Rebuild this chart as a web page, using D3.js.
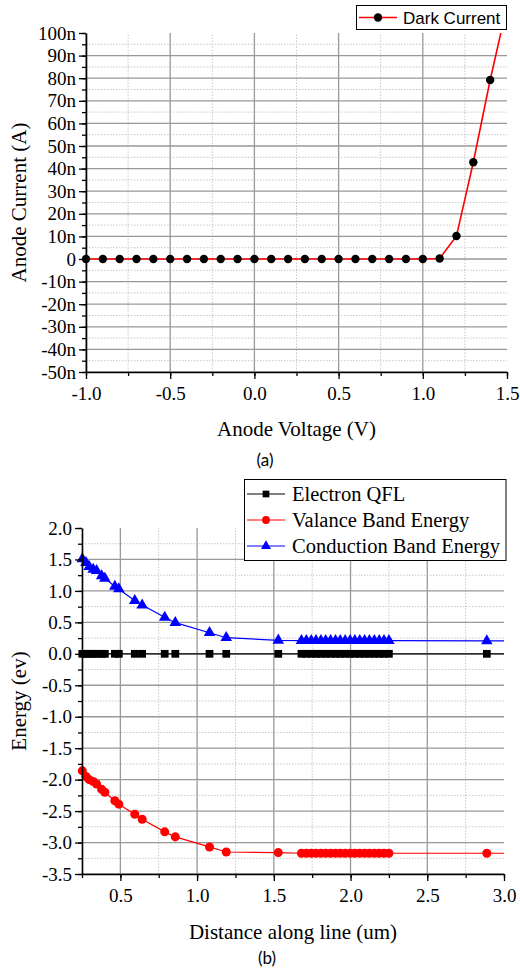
<!DOCTYPE html>
<html>
<head>
<meta charset="utf-8">
<script src="https://cdn.jsdelivr.net/npm/d3@7/dist/d3.min.js"></script>
<style>
  html, body { margin: 0; padding: 0; background: #fff; }
  svg { display: block; }
</style>
</head>
<body>
<svg id="fig" width="520" height="972"></svg>
<script>
// ---------- (a) dark current vs anode voltage ----------
const voltage = [-1.0, -0.9, -0.8, -0.7, -0.6, -0.5, -0.4, -0.3, -0.2, -0.1, 0.0,
                 0.1, 0.2, 0.3, 0.4, 0.5, 0.6, 0.7, 0.8, 0.9, 1.0, 1.1, 1.2, 1.3, 1.4, 1.5];
// anode current in nA
const currentNA = [0, 0, 0, 0, 0, 0, 0, 0, 0, 0, 0,
                   0, 0, 0, 0, 0, 0, 0, 0, 0, 0, 0.2, 10.2, 42.8, 79.2, 112];
const voltageTicks = [-1.0, -0.5, 0.0, 0.5, 1.0, 1.5];
const currentTicks = [-50, -40, -30, -20, -10, 0, 10, 20, 30, 40, 50, 60, 70, 80, 90, 100];

// ---------- (b) band diagram along a cut line ----------
const distance = [0.252, 0.276, 0.297, 0.323, 0.345, 0.378, 0.399, 0.464, 0.490, 0.594, 0.642,
                  0.789, 0.858, 1.081, 1.190, 1.529,
                  1.680, 1.712, 1.744, 1.775, 1.807, 1.838, 1.870, 1.902, 1.933, 1.965,
                  1.997, 2.028, 2.060, 2.092, 2.123, 2.155, 2.187, 2.218, 2.250,
                  2.888, 3.100];
const electronQFL = distance.map(() => 0);
const valenceBand = [-1.86, -1.95, -2.00, -2.03, -2.07, -2.155, -2.20, -2.335, -2.39, -2.55, -2.63,
                     -2.83, -2.91, -3.07, -3.15, -3.16,
                     -3.17, -3.17, -3.17, -3.17, -3.17, -3.17, -3.17, -3.17, -3.17, -3.17,
                     -3.17, -3.17, -3.17, -3.17, -3.17, -3.17, -3.17, -3.17, -3.17,
                     -3.17, -3.17];
const conductionBand = [1.51, 1.45, 1.385, 1.34, 1.32, 1.24, 1.20, 1.07, 1.03, 0.845, 0.775,
                        0.58, 0.495, 0.335, 0.256, 0.215,
                        0.21, 0.21, 0.21, 0.21, 0.21, 0.21, 0.21, 0.21, 0.21, 0.21,
                        0.21, 0.21, 0.21, 0.21, 0.21, 0.21, 0.21, 0.21, 0.21,
                        0.205, 0.205];
const distanceTicks = [0.5, 1.0, 1.5, 2.0, 2.5, 3.0];
const energyTicks = [-3.5, -3.0, -2.5, -2.0, -1.5, -1.0, -0.5, 0.0, 0.5, 1.0, 1.5, 2.0];
const seriesNames = ["Electron QFL", "Valance Band Energy", "Conduction Band Energy"];
const seriesColors = ["#000000", "#ff0000", "#0000ff"];

const svg = d3.select("#fig");
const SERIF = '"Liberation Serif", "Times New Roman", serif';
const TICK_FS = 19;
const MAJOR = "#999999", MINOR = "#c8c8c8";
// one decimal, plain hyphen for negatives
const fmt1 = v => d3.format(".1f")(v).replace("\u2212", "-");

function range(a, b, step) {
  const out = [];
  for (let v = a; v <= b + step * 1e-6; v += step) out.push(+v.toFixed(6));
  return out;
}

function frame(g, x, y, opts) {
  const [x0, x1] = x.range(), [yb, yt] = y.range();
  // minor grid (dotted)
  g.append("g").selectAll("line").data(opts.xMinor.filter(v => !opts.xMajor.includes(v)))
    .join("line").attr("x1", d => x(d)).attr("x2", d => x(d)).attr("y1", yb).attr("y2", yt)
    .attr("stroke", MINOR).attr("stroke-width", 1).attr("stroke-dasharray", "1.5,1.5");
  g.append("g").selectAll("line").data(opts.yMinor.filter(v => !opts.yMajor.includes(v)))
    .join("line").attr("y1", d => y(d)).attr("y2", d => y(d)).attr("x1", x0).attr("x2", x1)
    .attr("stroke", MINOR).attr("stroke-width", 1).attr("stroke-dasharray", "1.5,1.5");
  // major grid (solid), not on the top/right limits
  const xMaj = x.domain()[1], yMaj = y.domain()[1];
  g.append("g").selectAll("line").data(opts.xMajor.filter(v => v !== xMaj))
    .join("line").attr("x1", d => x(d)).attr("x2", d => x(d)).attr("y1", yb).attr("y2", yt)
    .attr("stroke", MAJOR).attr("stroke-width", 1.3);
  g.append("g").selectAll("line").data(opts.yMajor.filter(v => v !== yMaj))
    .join("line").attr("y1", d => y(d)).attr("y2", d => y(d)).attr("x1", x0).attr("x2", x1)
    .attr("stroke", MAJOR).attr("stroke-width", 1.3);
}

function axes(g, x, y, opts) {
  const yb = y.range()[0], x0 = x.range()[0];
  // minor ticks
  g.append("g").attr("transform", `translate(0,${yb})`)
    .call(d3.axisBottom(x).tickValues(opts.xMinor).tickSize(4).tickFormat(""))
    .call(s => s.select(".domain").remove())
    .call(s => s.selectAll("line").attr("stroke-width", 1.3));
  g.append("g").attr("transform", `translate(${x0},0)`)
    .call(d3.axisLeft(y).tickValues(opts.yMinor).tickSize(4).tickFormat(""))
    .call(s => s.select(".domain").remove())
    .call(s => s.selectAll("line").attr("stroke-width", 1.3));
  // major ticks + labels
  const xa = g.append("g").attr("transform", `translate(0,${yb})`)
    .call(d3.axisBottom(x).tickValues(opts.xMajor).tickSize(7).tickSizeOuter(0).tickPadding(8)
      .tickFormat(opts.xFormat));
  xa.attr("font-family", SERIF).attr("font-size", TICK_FS);
  xa.select(".domain").attr("stroke-width", 1.6);
  xa.selectAll("line").attr("stroke-width", 1.3);
  xa.selectAll("text").style("font-family", SERIF).style("font-size", TICK_FS + "px");
  const ya = g.append("g").attr("transform", `translate(${x0},0)`)
    .call(d3.axisLeft(y).tickValues(opts.yMajor).tickSize(7).tickSizeOuter(0).tickPadding(3)
      .tickFormat(opts.yFormat));
  ya.attr("font-family", SERIF).attr("font-size", TICK_FS);
  ya.select(".domain").attr("stroke-width", 1.6);
  ya.selectAll("line").attr("stroke-width", 1.3);
  ya.selectAll("text").style("font-family", SERIF).style("font-size", TICK_FS + "px");
}

// ================= panel (a) =================
{
  const x = d3.scaleLinear().domain([-1.0, 1.5]).range([86, 507]);
  const y = d3.scaleLinear().domain([-50, 100]).range([372, 33]);
  const g = svg.append("g");
  const opts = {
    xMajor: voltageTicks, xMinor: range(-1.0, 1.5, 0.25),
    yMajor: currentTicks, yMinor: range(-50, 100, 5),
    xFormat: fmt1,
    yFormat: d => d === 0 ? "0" : `${d}n`
  };
  frame(g, x, y, opts);

  g.append("clipPath").attr("id", "clipA").append("rect")
    .attr("x", 86).attr("y", 33).attr("width", 507 - 86).attr("height", 372 - 33);
  const pts = voltage.map((v, i) => [v, currentNA[i]]);
  g.append("path").datum(pts).attr("clip-path", "url(#clipA)")
    .attr("fill", "none").attr("stroke", "#ff0000").attr("stroke-width", 1.6)
    .attr("d", d3.line().x(d => x(d[0])).y(d => y(d[1])));
  g.append("g").selectAll("circle")
    .data(pts.filter(d => d[1] <= 100))
    .join("circle").attr("cx", d => x(d[0])).attr("cy", d => y(d[1])).attr("r", 4.2)
    .attr("fill", "#000");

  axes(g, x, y, opts);

  g.append("text").attr("transform", `translate(26,${(33 + 372) / 2}) rotate(-90)`)
    .attr("text-anchor", "middle").attr("font-family", SERIF).attr("font-size", 21)
    .text("Anode Current (A)");
  g.append("text").attr("x", (86 + 507) / 2).attr("y", 436)
    .attr("text-anchor", "middle").attr("font-family", SERIF).attr("font-size", 21)
    .text("Anode Voltage (V)");
  g.append("text").attr("x", 265).attr("y", 466)
    .attr("text-anchor", "middle").attr("font-family", "Lato, 'Open Sans', sans-serif").attr("font-size", 17)
    .text("(a)");

  // legend
  const lg = g.append("g");
  lg.append("rect").attr("x", 356.5).attr("y", 5.5).attr("width", 150).attr("height", 24)
    .attr("fill", "#fff").attr("stroke", "#000").attr("stroke-width", 1);
  lg.append("line").attr("x1", 359).attr("x2", 397).attr("y1", 17.5).attr("y2", 17.5)
    .attr("stroke", "#ff0000").attr("stroke-width", 1.6);
  lg.append("circle").attr("cx", 378).attr("cy", 17.5).attr("r", 4.2).attr("fill", "#000");
  lg.append("text").attr("x", 403).attr("y", 23.5)
    .attr("font-family", "'Liberation Sans', Arial, sans-serif").attr("font-size", 17)
    .text("Dark Current");
}

// ================= panel (b) =================
{
  const x = d3.scaleLinear().domain([0.25, 3.0]).range([82, 504]);
  const y = d3.scaleLinear().domain([-3.5, 2.0]).range([874, 528]);
  const g = svg.append("g");
  const opts = {
    xMajor: distanceTicks, xMinor: range(0.25, 3.0, 0.25),
    yMajor: energyTicks, yMinor: range(-3.5, 2.0, 0.25),
    xFormat: fmt1, yFormat: fmt1
  };
  frame(g, x, y, opts);

  g.append("clipPath").attr("id", "clipB").append("rect")
    .attr("x", 82).attr("y", 528).attr("width", 504 - 82).attr("height", 874 - 528);

  const seriesVals = [electronQFL, valenceBand, conductionBand];
  const symbols = [d3.symbolSquare, d3.symbolCircle, d3.symbolTriangle];
  const sizes = [60, 64, 58];
  const line = d3.line().x(d => x(d[0])).y(d => y(d[1]));

  seriesVals.forEach((vals, k) => {
    const pts = distance.map((d, i) => [d, vals[i]]);
    g.append("path").datum(pts).attr("clip-path", "url(#clipB)")
      .attr("fill", "none").attr("stroke", seriesColors[k]).attr("stroke-width", 1.2)
      .attr("d", line);
    g.append("g").selectAll("path")
      .data(pts.filter(d => d[0] <= 3.0))
      .join("path")
      .attr("transform", d => `translate(${x(d[0])},${y(d[1])})`)
      .attr("d", d3.symbol().type(symbols[k]).size(sizes[k]))
      .attr("fill", seriesColors[k]);
  });

  axes(g, x, y, opts);

  g.append("text").attr("transform", `translate(26,${(528 + 874) / 2}) rotate(-90)`)
    .attr("text-anchor", "middle").attr("font-family", SERIF).attr("font-size", 21)
    .text("Energy (ev)");
  g.append("text").attr("x", (82 + 504) / 2).attr("y", 939)
    .attr("text-anchor", "middle").attr("font-family", SERIF).attr("font-size", 21)
    .text("Distance along line (um)");
  g.append("text").attr("x", 267).attr("y", 964)
    .attr("text-anchor", "middle").attr("font-family", "Lato, 'Open Sans', sans-serif").attr("font-size", 17)
    .text("(b)");

  // legend
  const lg = g.append("g");
  lg.append("rect").attr("x", 244.5).attr("y", 479.5).attr("width", 261.5).attr("height", 81)
    .attr("fill", "#fff").attr("stroke", "#000").attr("stroke-width", 1);
  const rows = lg.selectAll("g.row").data(seriesNames).join("g").attr("class", "row")
    .attr("transform", (d, i) => `translate(0,${494 + i * 26})`);
  rows.append("line").attr("x1", 247).attr("x2", 285).attr("y1", 0).attr("y2", 0)
    .attr("stroke", (d, i) => seriesColors[i]).attr("stroke-width", 1.2);
  rows.append("path").attr("transform", "translate(266,0)")
    .attr("d", (d, i) => d3.symbol().type(symbols[i]).size(sizes[i] * 0.75)())
    .attr("fill", (d, i) => seriesColors[i]);
  rows.append("text").attr("x", 292).attr("y", 7)
    .attr("font-family", SERIF).attr("font-size", 20.5)
    .text(d => d);
}
</script>
</body>
</html>
